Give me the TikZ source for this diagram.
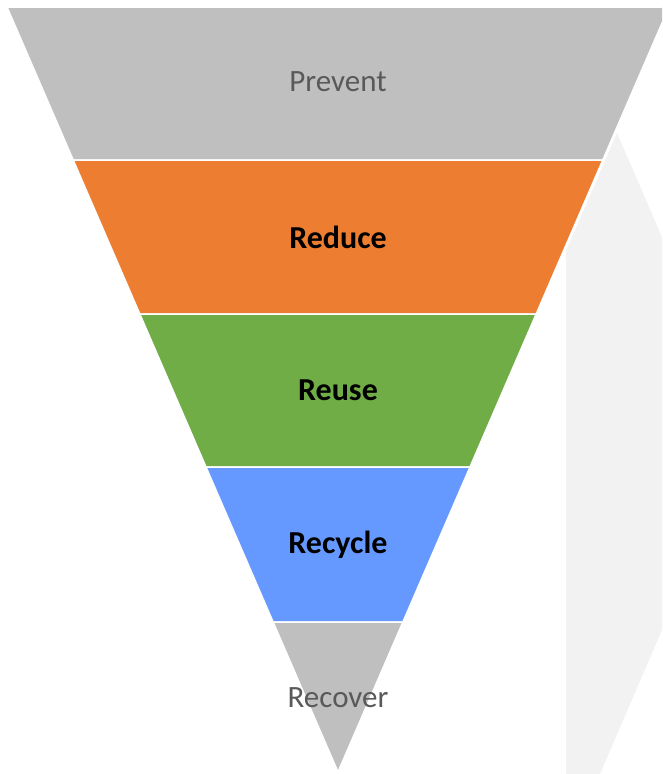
\documentclass[tikz,border=0pt]{standalone}
\usepackage{fontspec}
\setmainfont{Carlito}
\usepackage{tikz}

\definecolor{bandgray}{HTML}{BFBFBF}
\definecolor{bandorange}{HTML}{ED7D31}
\definecolor{bandgreen}{HTML}{70AD47}
\definecolor{bandblue}{HTML}{6699FF}
\definecolor{backgray}{HTML}{F2F2F2}
\definecolor{textgray}{HTML}{595959}

\begin{document}
\begin{tikzpicture}[x=1pt,y=-1pt,
  band/.style={draw=white,line width=1.5pt,line join=miter},
  stage/.style={font=\fontsize{31}{37}\selectfont},
  keystage/.style={stage,font=\fontsize{32}{38}\selectfont\bfseries,text=black}]
\useasboundingbox (0,0) rectangle (662,774);
\clip (0,0) rectangle (662,774);
\fill[backgray] (566,774) -- (566,251) -- (617,133) -- (662,237) -- (662,630) -- (600,774) -- cycle;
\draw[band,fill=bandgray] (7,7) -- (669,7) -- (602.8,160) -- (73.2,160) -- cycle;
\draw[band,fill=bandorange] (73.2,160) -- (602.8,160) -- (536.2,314) -- (139.8,314) -- cycle;
\draw[band,fill=bandgreen] (139.8,314) -- (536.2,314) -- (470,467) -- (206,467) -- cycle;
\draw[band,fill=bandblue] (206,467) -- (470,467) -- (402.9,622) -- (273.1,622) -- cycle;
\draw[band,fill=bandgray] (273.1,622) -- (402.9,622) -- (338,772) -- cycle;
\node[stage,text=textgray] (prevent) at (338,82) {Prevent};
\node[keystage] (reduce) at (338,237) {Reduce};
\node[keystage] (reuse) at (338,390) {Reuse};
\node[keystage] (recycle) at (338,545) {Recycle};
\node[stage,text=textgray] (recover) at (338,698) {Recover};
\end{tikzpicture}
\end{document}
